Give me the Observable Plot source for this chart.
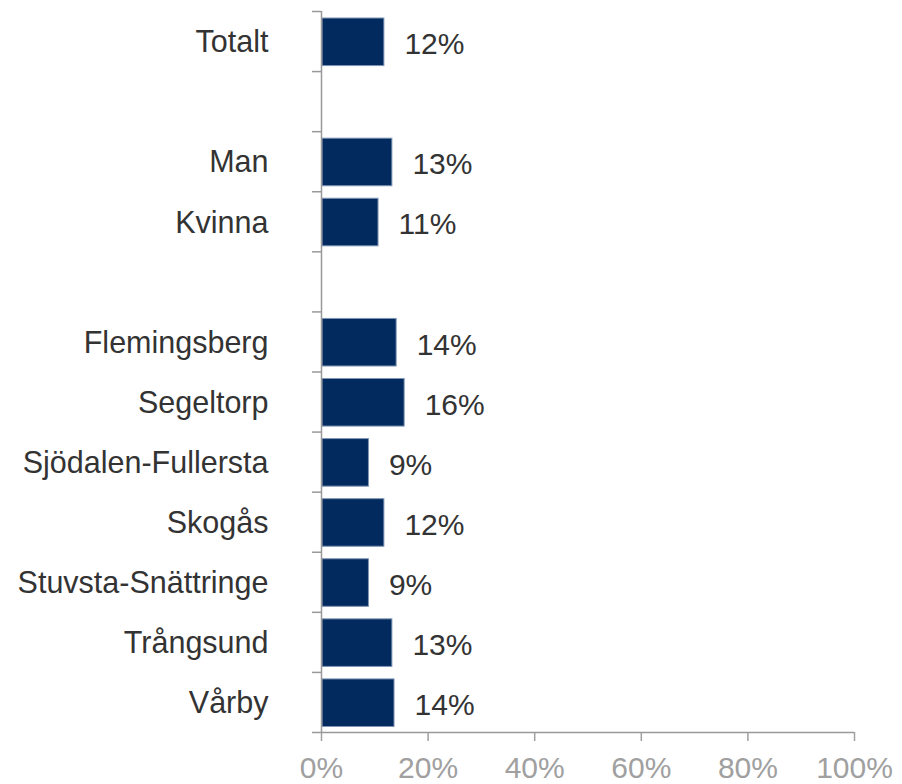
<!DOCTYPE html>
<html>
<head>
<meta charset="utf-8">
<script src="https://cdn.jsdelivr.net/npm/d3@7"></script>
<script src="https://cdn.jsdelivr.net/npm/@observablehq/plot@0.6"></script>
<style>
  html, body { margin: 0; padding: 0; background: #fff; }
</style>
</head>
<body>
<div id="chart"></div>
<script>
// Rows, top to bottom ("" = empty spacer row)
const categories = ["Totalt", "", "Man", "Kvinna", "", "Flemingsberg", "Segeltorp",
  "Sjödalen-Fullersta", "Skogås", "Stuvsta-Snättringe", "Trångsund", "Vårby"];
// Share in percent (null for spacer rows)
const values = [11.8, null, 13.3, 10.7, null, 14.1, 15.6, 8.9, 11.8, 8.9, 13.3, 13.7];
const valueLabels = ["12%", "", "13%", "11%", "", "14%", "16%", "9%", "12%", "9%", "13%", "14%"];
const xTicks = [0, 20, 40, 60, 80, 100];

const rows = categories.map((c, i) => ({cat: c, i, value: values[i], label: valueLabels[i]}))
  .filter(d => d.value != null);

const n = categories.length;
const gray = "#999999";
const font = "'Liberation Sans', Arial, sans-serif";

const chart = Plot.plot({
  width: 902,
  height: 784,
  marginTop: 11,
  marginBottom: 52,
  marginLeft: 321,
  marginRight: 48,
  style: {fontFamily: font, fontSize: "30px", background: "#fff"},
  x: {domain: [0, 100], label: null},
  y: {domain: [0, n], reverse: true, label: null},
  marks: [
    Plot.rectX(rows, {
      x1: d => 0, x2: "value", y1: "i", y2: d => d.i + 1,
      insetTop: 7, insetBottom: 5.5, insetLeft: 1,
      fill: "#022a5f", stroke: "#7f95b4", strokeWidth: 1
    }),
    Plot.text(rows, {
      x: "value", y: d => d.i + 0.5, text: "label",
      dx: 20, dy: 3, textAnchor: "start", fill: "#333333", fontSize: 30
    }),
    // boundary ticks on the category axis
    Plot.axisY({
      ticks: d3.range(0, n + 1), tickSize: 9, tickFormat: () => "",
      color: gray, strokeWidth: 1.5, label: null
    }),
    // category labels
    Plot.axisY({
      ticks: d3.range(n).map(i => i + 0.5), tickSize: 0, tickPadding: 53,
      tickFormat: v => categories[Math.floor(v)], fontSize: 30.5, color: "#333333", dy: 1,
      label: null
    }),
    Plot.axisX({
      ticks: xTicks, tickFormat: d => d + "%", tickSize: 9, tickPadding: 15,
      fontSize: 30, color: "#a0a0a0", strokeWidth: 1.5, label: null
    }),
    Plot.ruleX([0], {y1: 0, y2: n, stroke: gray, strokeWidth: 1.5}),
    Plot.ruleY([n], {stroke: gray, strokeWidth: 1.5})
  ]
});
document.getElementById("chart").append(chart);
</script>
</body>
</html>
